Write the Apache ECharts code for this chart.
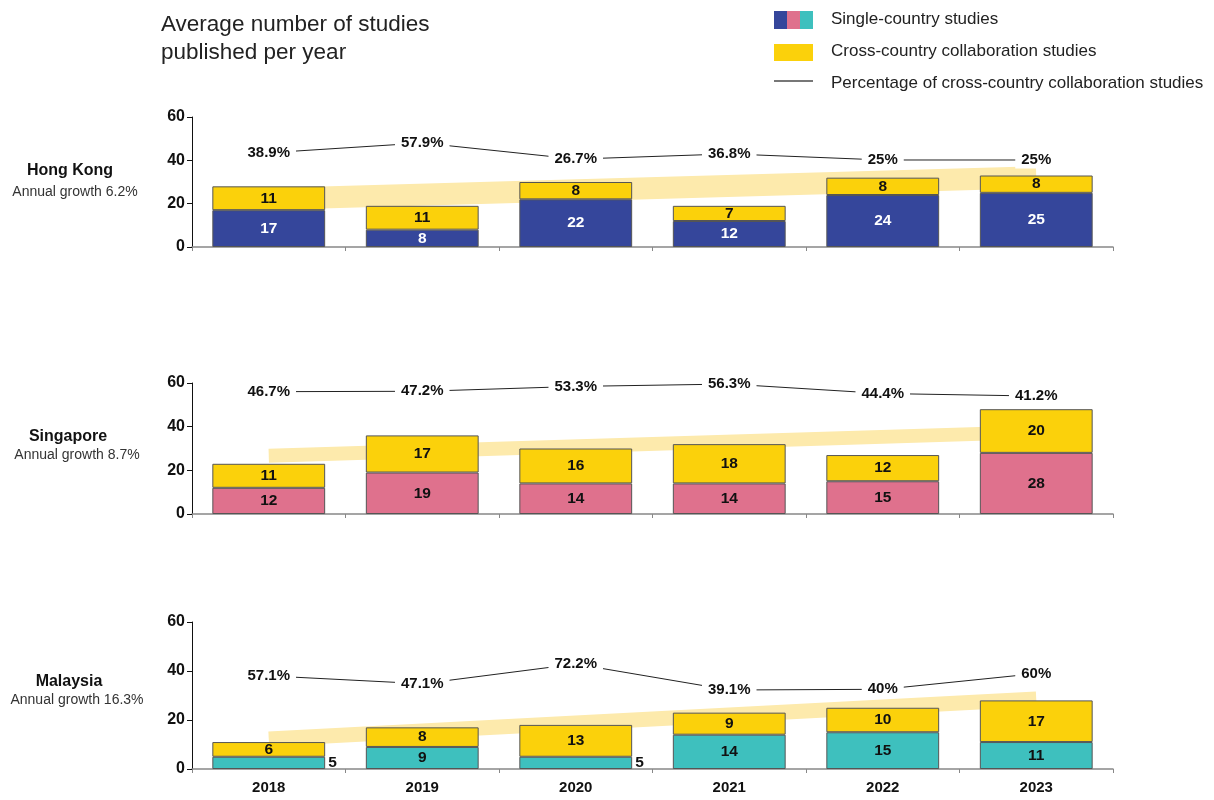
<!DOCTYPE html>
<html><head><meta charset="utf-8">
<script src="https://cdn.jsdelivr.net/npm/echarts@6/dist/echarts.min.js"></script>
<style>html,body{margin:0;padding:0;background:#fff}#c{width:1214px;height:800px}</style>
</head><body><div id="c"></div>
<script>
// ---- data ----
const years = ['2018', '2019', '2020', '2021', '2022', '2023'];
const regions = ['Hong Kong', 'Singapore', 'Malaysia'];
const growthLabels = ['Annual growth 6.2%', 'Annual growth 8.7%', 'Annual growth 16.3%'];
const yTicks = [0, 20, 40, 60];

const hkSingle = [17, 8, 22, 12, 24, 25];
const hkCross  = [11, 11, 8, 7, 8, 8];
const hkPct    = [38.9, 57.9, 26.7, 36.8, 25, 25];
const hkTrend  = [22.1, null, null, null, null, 32.2];

const sgSingle = [12, 19, 14, 14, 15, 28];
const sgCross  = [11, 17, 16, 18, 12, 20];
const sgPct    = [46.7, 47.2, 53.3, 56.3, 44.4, 41.2];
const sgTrend  = [26.7, null, null, null, null, 37.5];

const mySingle = [5, 9, 5, 14, 15, 11];
const myCross  = [6, 8, 13, 9, 10, 17];
const myPct    = [57.1, 47.1, 72.2, 39.1, 40, 60];
const myTrend  = [12.2, null, null, null, null, 28.6];

const legendLabels = ['Single-country studies', 'Cross-country collaboration studies', 'Percentage of cross-country collaboration studies'];
const mainTitle = 'Average number of studies\npublished per year';

// ---- layout / style ----
const FONT = '"Liberation Sans", Arial, Helvetica, sans-serif';
const panels = [
  { single: hkSingle, cross: hkCross, pct: hkPct, trend: hkTrend, color: '#35469B', labelColor: '#fff',
    top: 117, height: 130, pctMin: -143, pctMax: 108, bandWidth: 22,
    nameY: 171, growthY: 192, nameX: 70, growthX: 75 },
  { single: sgSingle, cross: sgCross, pct: sgPct, trend: sgTrend, color: '#DF718D', labelColor: '#111',
    top: 383, height: 131, pctMin: -107, pctMax: 57.6, bandWidth: 14,
    nameY: 437, growthY: 455, nameX: 68, growthX: 77 },
  { single: mySingle, cross: myCross, pct: myPct, trend: myTrend, color: '#3EC0BE', labelColor: '#111',
    top: 622, height: 147, pctMin: -61.5, pctMax: 125.7, bandWidth: 15,
    nameY: 682, growthY: 700, nameX: 69, growthX: 77 }
];
const YELLOW = '#FBD10B';
const BAND = '#FDEAAC';
const BORDER = '#555';

const grid = [], xAxis = [], yAxis = [], series = [];
panels.forEach((p, i) => {
  grid.push({ left: 192, width: 921, top: p.top, height: p.height });
  xAxis.push({
    type: 'category', gridIndex: i, data: years,
    axisLine: { lineStyle: { color: '#888', width: 1.5 } },
    axisTick: { show: true, length: 4, lineStyle: { color: '#888' } },
    axisLabel: { show: i === 2, fontSize: 15, fontWeight: 'bold', color: '#111', margin: 11, fontFamily: FONT }
  });
  yAxis.push({
    type: 'value', gridIndex: i, min: yTicks[0], max: yTicks[yTicks.length - 1], interval: 20,
    axisLine: { show: true, lineStyle: { color: '#111', width: 1 } },
    axisTick: { show: true, length: 5, lineStyle: { color: '#111' } },
    splitLine: { show: false },
    axisLabel: { fontSize: 16, fontWeight: 'bold', color: '#111', margin: 7, fontFamily: FONT }
  });
  yAxis.push({ type: 'value', gridIndex: i, min: p.pctMin, max: p.pctMax, show: false, splitLine: { show: false } });

  series.push({
    type: 'line', xAxisIndex: i, yAxisIndex: 2 * i, data: p.trend, connectNulls: true,
    symbol: 'none', silent: true, z: 1,
    lineStyle: { color: BAND, width: p.bandWidth, cap: 'butt' }
  });
  series.push({
    type: 'bar', xAxisIndex: i, yAxisIndex: 2 * i, stack: 's' + i, barWidth: '73.5%', z: 2,
    data: p.single.map(v => v <= 5 ? { value: v, label: { position: 'right', distance: 3, color: '#111' } } : v),
    itemStyle: { color: p.color, borderColor: BORDER, borderWidth: 1 },
    label: { show: true, position: 'inside', color: p.labelColor, fontSize: 15.5, fontWeight: 'bold', fontFamily: FONT }
  });
  series.push({
    type: 'bar', xAxisIndex: i, yAxisIndex: 2 * i, stack: 's' + i, barWidth: '73.5%', z: 2,
    data: p.cross,
    itemStyle: { color: YELLOW, borderColor: BORDER, borderWidth: 1 },
    label: { show: true, position: 'inside', color: '#111', fontSize: 15.5, fontWeight: 'bold', fontFamily: FONT }
  });
  series.push({
    type: 'line', xAxisIndex: i, yAxisIndex: 2 * i + 1, data: p.pct, symbol: 'none', silent: true, z: 3,
    lineStyle: { color: '#222', width: 1 }
  });
  series.push({
    type: 'scatter', xAxisIndex: i, yAxisIndex: 2 * i + 1, data: p.pct, symbolSize: 1, silent: true, z: 4,
    itemStyle: { color: 'rgba(255,255,255,0)', opacity: 1 },
    label: { show: true, position: 'inside', formatter: '{c}%', backgroundColor: '#fff', padding: [1, 6],
             fontSize: 15, fontWeight: 'bold', color: '#111', opacity: 1, fontFamily: FONT }
  });
});

const graphic = [];
panels.forEach((p, i) => {
  graphic.push({ type: 'text', x: p.nameX, y: p.nameY, silent: true,
    style: { text: regions[i], align: 'center', verticalAlign: 'middle', font: 'bold 16px ' + FONT, fill: '#111' } });
  graphic.push({ type: 'text', x: p.growthX, y: p.growthY, silent: true,
    style: { text: growthLabels[i], align: 'center', verticalAlign: 'middle', font: '14px ' + FONT, fill: '#333' } });
});
// legend
graphic.push({ type: 'rect', shape: { x: 774, y: 11, width: 13, height: 18 }, style: { fill: panels[0].color } });
graphic.push({ type: 'rect', shape: { x: 787, y: 11, width: 13, height: 18 }, style: { fill: panels[1].color } });
graphic.push({ type: 'rect', shape: { x: 800, y: 11, width: 13, height: 18 }, style: { fill: panels[2].color } });
graphic.push({ type: 'rect', shape: { x: 774, y: 44, width: 39, height: 17 }, style: { fill: YELLOW } });
graphic.push({ type: 'line', shape: { x1: 774, y1: 81, x2: 813, y2: 81 }, style: { stroke: '#777', lineWidth: 2 } });
[19, 51, 83].forEach((y, k) => {
  graphic.push({ type: 'text', x: 831, y: y, silent: true,
    style: { text: legendLabels[k], align: 'left', verticalAlign: 'middle', font: '17px ' + FONT, fill: '#222' } });
});
graphic.push({ type: 'text', x: 161, y: 11, silent: true,
  style: { text: mainTitle, align: 'left', verticalAlign: 'top', font: '22.5px ' + FONT, lineHeight: 28, fill: '#222' } });

const chart = echarts.init(document.getElementById('c'), null, { renderer: 'canvas' });
chart.setOption({
  animation: false,
  backgroundColor: '#fff',
  textStyle: { fontFamily: FONT },
  grid, xAxis, yAxis, series, graphic
});
</script></body></html>
